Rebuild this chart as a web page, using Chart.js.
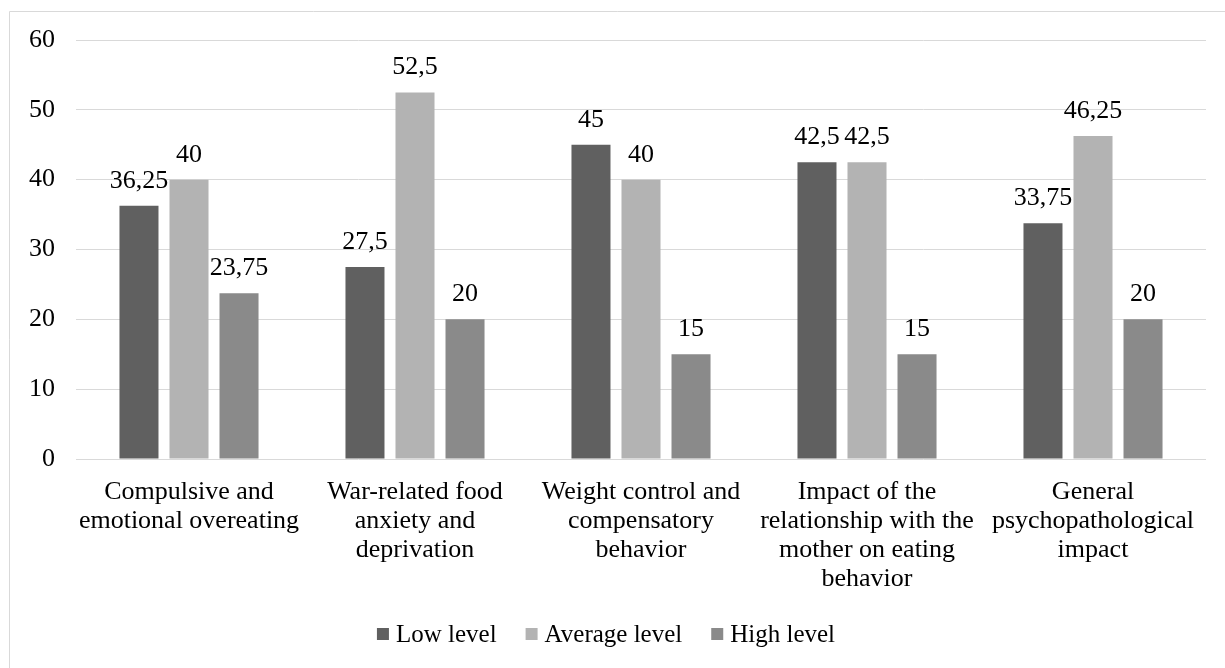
<!DOCTYPE html>
<html>
<head>
<meta charset="utf-8">
<script src="https://cdn.jsdelivr.net/npm/chart.js@4.4.1/dist/chart.umd.min.js"></script>
<style>
  html, body { margin: 0; padding: 0; background: #fff; }
  #wrap { position: relative; width: 1225px; height: 668px; }
</style>
</head>
<body>
<div id="wrap"><canvas id="chart" width="1225" height="668"></canvas></div>
<script>
// Category labels (wrapped into lines as shown under the axis)
const categories = [
  ["Compulsive and", "emotional overeating"],
  ["War-related food", "anxiety and", "deprivation"],
  ["Weight control and", "compensatory", "behavior"],
  ["Impact of the", "relationship with the", "mother on eating", "behavior"],
  ["General", "psychopathological", "impact"]
];

const seriesNames = ["Low level", "Average level", "High level"];
const lowLevel     = [36.25, 27.5, 45, 42.5, 33.75];
const averageLevel = [40, 52.5, 40, 42.5, 46.25];
const highLevel    = [23.75, 20, 15, 15, 20];

const yTicks = [0, 10, 20, 30, 40, 50, 60];

const colors = ["#606060", "#b3b3b3", "#8a8a8a"];
const FONT = "'Liberation Serif', 'Times New Roman', serif";
const FONT_SIZE = 26;
const LEGEND_FONT_SIZE = 25;

const fmt = v => String(v).replace('.', ',');

// Light frame along the left and top edges
const framePlugin = {
  id: 'frame',
  beforeDraw(chart) {
    const ctx = chart.ctx;
    ctx.save();
    ctx.strokeStyle = '#d9d9d9';
    ctx.lineWidth = 1;
    ctx.beginPath();
    ctx.moveTo(9.5, 668);
    ctx.lineTo(9.5, 11.5);
    ctx.lineTo(1225, 11.5);
    ctx.stroke();
    ctx.restore();
  }
};

// Value labels above each bar
const valueLabels = {
  id: 'valueLabels',
  afterDatasetsDraw(chart) {
    const ctx = chart.ctx;
    ctx.save();
    ctx.font = FONT_SIZE + 'px ' + FONT;
    ctx.fillStyle = '#000';
    ctx.textAlign = 'center';
    ctx.textBaseline = 'alphabetic';
    chart.data.datasets.forEach((ds, i) => {
      chart.getDatasetMeta(i).data.forEach((bar, j) => {
        ctx.fillText(fmt(ds.data[j]), bar.x, bar.y - 18);
      });
    });
    ctx.restore();
  }
};

// Legend row under the axis labels
const legendRow = {
  id: 'legendRow',
  afterDraw(chart) {
    const ctx = chart.ctx;
    ctx.save();
    ctx.font = LEGEND_FONT_SIZE + 'px ' + FONT;
    ctx.textBaseline = 'middle';
    ctx.textAlign = 'left';
    const box = 12, gapText = 7, gapItem = 29, cy = 634;
    const items = chart.data.datasets.map(ds => ({
      label: ds.label, color: ds.backgroundColor,
      w: box + gapText + ctx.measureText(ds.label).width
    }));
    const total = items.reduce((s, it) => s + it.w, 0) + gapItem * (items.length - 1);
    let x = 606 - total / 2;
    items.forEach(it => {
      ctx.fillStyle = it.color;
      ctx.fillRect(x, cy - box / 2, box, box);
      ctx.fillStyle = '#000';
      ctx.fillText(it.label, x + box + gapText, cy + 1);
      x += it.w + gapItem;
    });
    ctx.restore();
  }
};

new Chart(document.getElementById('chart'), {
  type: 'bar',
  data: {
    labels: categories,
    datasets: [
      { label: seriesNames[0], data: lowLevel, backgroundColor: colors[0] },
      { label: seriesNames[1], data: averageLevel, backgroundColor: colors[1] },
      { label: seriesNames[2], data: highLevel, backgroundColor: colors[2] }
    ]
  },
  options: {
    responsive: false,
    animation: false,
    devicePixelRatio: 1,
    categoryPercentage: 0.664,
    barPercentage: 0.78,
    layout: { padding: { top: 40, right: 19, left: 0, bottom: 0 } },
    plugins: {
      legend: { display: false },
      tooltip: { enabled: false }
    },
    scales: {
      x: {
        grid: { display: false },
        border: { display: false },
        ticks: {
          color: '#000',
          padding: 11,
          maxRotation: 0,
          autoSkip: false,
          font: { family: FONT, size: FONT_SIZE, lineHeight: 1.115 }
        },
        afterFit(scale) { scale.height = 668 - 459; }
      },
      y: {
        min: 0,
        max: 60,
        afterBuildTicks(scale) { scale.ticks = yTicks.map(v => ({ value: v })); },
        grid: { color: '#d9d9d9', lineWidth: 1, drawTicks: false },
        border: { display: false },
        ticks: {
          color: '#000',
          padding: 21,
          font: { family: FONT, size: FONT_SIZE }
        },
        afterFit(scale) { scale.width = 76; }
      }
    }
  },
  plugins: [framePlugin, valueLabels, legendRow]
});
</script>
</body>
</html>
